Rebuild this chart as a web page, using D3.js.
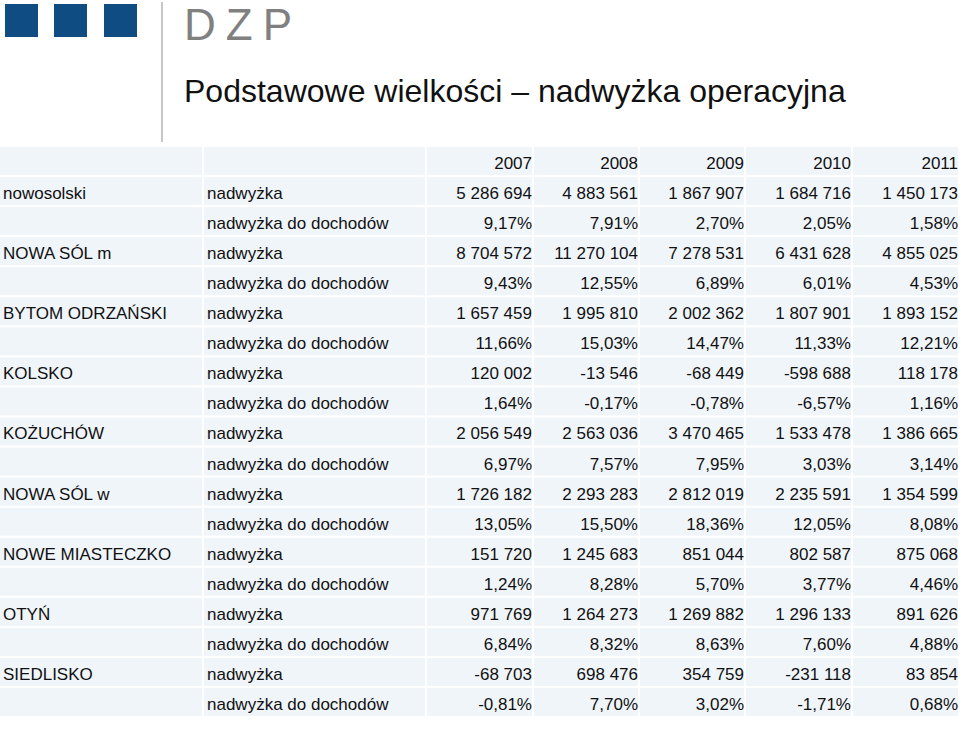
<!DOCTYPE html>
<html>
<head>
<meta charset="utf-8">
<script src="https://cdn.jsdelivr.net/npm/d3@7"></script>
<style>
  body { margin: 0; background: #fff; }
  text { font-family: "Liberation Sans", Arial, sans-serif; }
</style>
</head>
<body>
<svg id="chart" width="960" height="748"></svg>
<script>
// Data
const years = ['2007', '2008', '2009', '2010', '2011'];
const units = ['nowosolski', 'NOWA SÓL m', 'BYTOM ODRZAŃSKI', 'KOLSKO', 'KOŻUCHÓW',
  'NOWA SÓL w', 'NOWE MIASTECZKO', 'OTYŃ', 'SIEDLISKO'];
const measures = ['nadwyżka', 'nadwyżka do dochodów'];
const surplus = [
  ['5 286 694', '4 883 561', '1 867 907', '1 684 716', '1 450 173'],
  ['8 704 572', '11 270 104', '7 278 531', '6 431 628', '4 855 025'],
  ['1 657 459', '1 995 810', '2 002 362', '1 807 901', '1 893 152'],
  ['120 002', '-13 546', '-68 449', '-598 688', '118 178'],
  ['2 056 549', '2 563 036', '3 470 465', '1 533 478', '1 386 665'],
  ['1 726 182', '2 293 283', '2 812 019', '2 235 591', '1 354 599'],
  ['151 720', '1 245 683', '851 044', '802 587', '875 068'],
  ['971 769', '1 264 273', '1 269 882', '1 296 133', '891 626'],
  ['-68 703', '698 476', '354 759', '-231 118', '83 854'],
];
const ratio = [
  ['9,17%', '7,91%', '2,70%', '2,05%', '1,58%'],
  ['9,43%', '12,55%', '6,89%', '6,01%', '4,53%'],
  ['11,66%', '15,03%', '14,47%', '11,33%', '12,21%'],
  ['1,64%', '-0,17%', '-0,78%', '-6,57%', '1,16%'],
  ['6,97%', '7,57%', '7,95%', '3,03%', '3,14%'],
  ['13,05%', '15,50%', '18,36%', '12,05%', '8,08%'],
  ['1,24%', '8,28%', '5,70%', '3,77%', '4,46%'],
  ['6,84%', '8,32%', '8,63%', '7,60%', '4,88%'],
  ['-0,81%', '7,70%', '3,02%', '-1,71%', '0,68%'],
];

// Build rows: header + two per unit
const rows = [['', '', ...years]];
units.forEach((u, i) => {
  rows.push([u, measures[0], ...surplus[i]]);
  rows.push(['', measures[1], ...ratio[i]]);
});

const svg = d3.select('#chart');

// Logo
[5, 54, 104].forEach((x) => {
  svg.append('rect').attr('x', x).attr('y', 4).attr('width', 33).attr('height', 33).attr('fill', '#0f4c81');
});
svg.append('line').attr('x1', 162).attr('x2', 162).attr('y1', 2).attr('y2', 142)
  .attr('stroke', '#a0a0a0').attr('stroke-width', 1.2);
svg.append('text').attr('x', 184).attr('y', 40).text('DZP')
  .attr('font-size', 44).attr('letter-spacing', 10)
  .attr('fill', '#808080');
svg.append('text').attr('x', 184).attr('y', 102)
  .attr('font-size', 32).attr('fill', '#111')
  .text('Podstawowe wielkości – nadwyżka operacyjna');

// Table scales
const colEdges = [0, 204, 427, 534, 640, 746, 853, 960];
const y = d3.scaleBand().domain(d3.range(rows.length)).range([147, 716]).paddingInner(0.07);

const rowG = svg.append('g').selectAll('g').data(rows).join('g')
  .attr('transform', (d, i) => `translate(0,${y(i)})`);

rowG.selectAll('rect').data((d) => d).join('rect')
  .attr('x', (d, j) => colEdges[j])
  .attr('width', (d, j) => colEdges[j + 1] - colEdges[j] - 2)
  .attr('height', y.bandwidth())
  .attr('fill', '#f0f5fa');

rowG.selectAll('text').data((d) => d).join('text')
  .attr('x', (d, j) => (j < 2 ? colEdges[j] + 3 : colEdges[j + 1] - 2))
  .attr('y', y.bandwidth() / 2 + 8)
  .attr('text-anchor', (d, j) => (j < 2 ? 'start' : 'end'))
  .attr('font-size', 17)
  .attr('fill', '#111')
  .text((d) => d);
</script>
</body>
</html>
